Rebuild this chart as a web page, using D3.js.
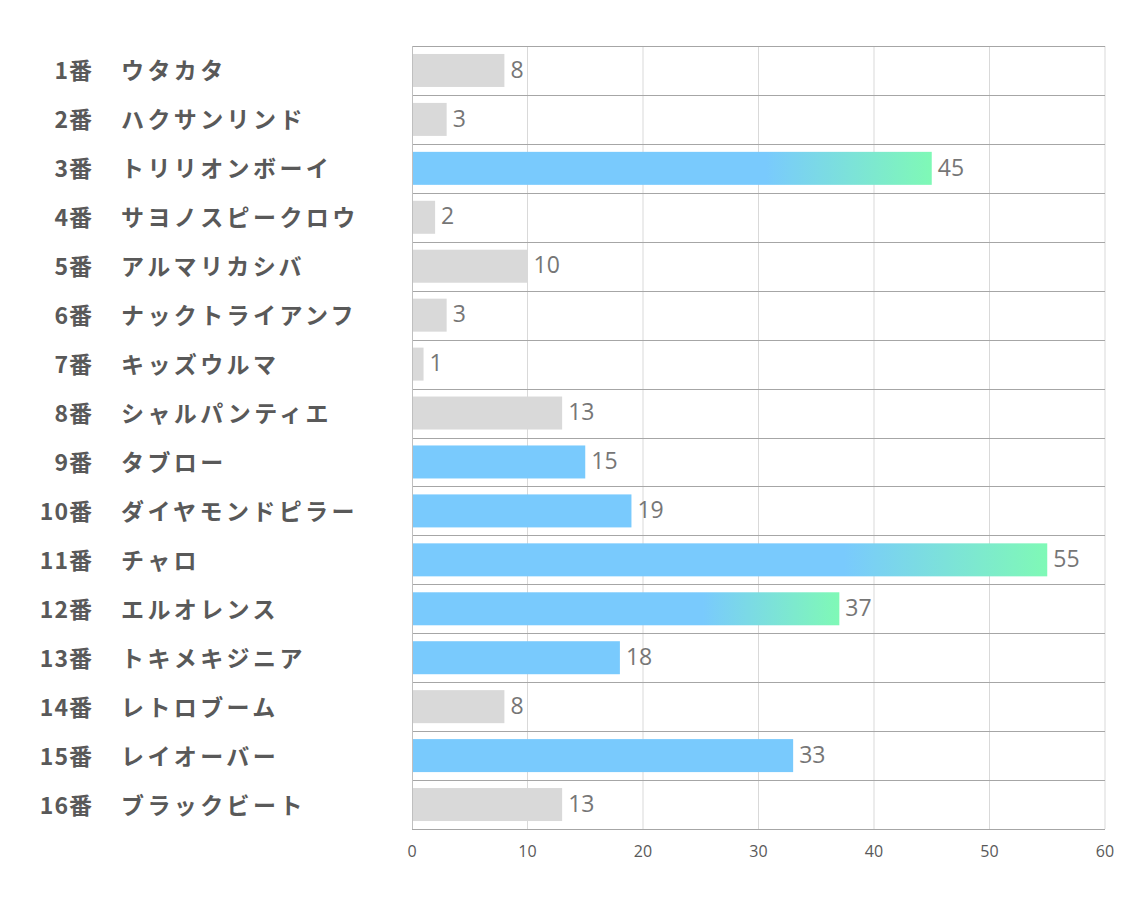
<!DOCTYPE html>
<html><head><meta charset="utf-8">
<script src="https://cdn.jsdelivr.net/npm/d3@7"></script>
<style>body{margin:0;background:#fff}svg{display:block}</style>
</head><body>
<script>
const nums = ["1番","2番","3番","4番","5番","6番","7番","8番","9番","10番","11番","12番","13番","14番","15番","16番"];
const names = ["ウタカタ","ハクサンリンド","トリリオンボーイ","サヨノスピークロウ","アルマリカシバ","ナックトライアンフ","キッズウルマ","シャルパンティエ","タブロー","ダイヤモンドピラー","チャロ","エルオレンス","トキメキジニア","レトロブーム","レイオーバー","ブラックビート"];
const values = [8,3,45,2,10,3,1,13,15,19,55,37,18,8,33,13];
// 0 = gray, 1 = blue, 2 = blue→green gradient
const kinds = [0,0,2,0,0,0,0,0,1,1,2,2,1,0,1,0];
const ticks = [0,10,20,30,40,50,60];

const W=1134,H=907;
const svg=d3.select("body").append("svg").attr("width",W).attr("height",H);
const defs=svg.append("defs");
const g=defs.append("linearGradient").attr("id","grad").attr("x1","0").attr("x2","1").attr("y1","0").attr("y2","0");
g.append("stop").attr("offset","0.68").attr("stop-color","#79cafd");
g.append("stop").attr("offset","1").attr("stop-color","#7ff9b6");

const x=d3.scaleLinear().domain([0,60]).range([412,1105]);
const y=d3.scaleBand().domain(d3.range(16)).range([46,829]).paddingInner(0).paddingOuter(0);
const bw=33;

// vertical grid
svg.append("g").selectAll("line").data(ticks.slice(1)).join("line")
 .attr("x1",d=>x(d)).attr("x2",d=>x(d)).attr("y1",46).attr("y2",829)
 .attr("stroke","#d9d9d9").attr("stroke-width",1);
// horizontal lines
svg.append("g").selectAll("line").data(d3.range(17)).join("line")
 .attr("x1",412).attr("x2",1105)
 .attr("y1",d=>Math.round(46+d*y.step())+0.5).attr("y2",d=>Math.round(46+d*y.step())+0.5)
 .attr("stroke","#a6a6a6").attr("stroke-width",1);

const colors=["#d9d9d9","#79cafd","url(#grad)"];
svg.append("g").selectAll("rect").data(values).join("rect")
 .attr("x",x(0)+1).attr("y",(d,i)=>y(i)+(y.bandwidth()-bw)/2)
 .attr("width",d=>x(d)-x(0)-1).attr("height",bw)
 .attr("fill",(d,i)=>colors[kinds[i]]);

// left axis line
svg.append("line").attr("x1",412.5).attr("x2",412.5).attr("y1",46).attr("y2",829).attr("stroke","#bfbfbf");

// value labels
svg.append("g").selectAll("text").data(values).join("text")
 .attr("x",d=>x(d)+6).attr("y",(d,i)=>y(i)+y.bandwidth()/2+1)
 .attr("dominant-baseline","middle")
 .attr("font-family","'Open Sans', sans-serif").attr("font-size",23).attr("fill","#767676")
 .text(d=>d);

// category labels
const lab=svg.append("g").attr("font-family","'Noto Sans CJK JP', sans-serif").attr("font-weight","bold").attr("font-size",23).attr("fill","#595959");
lab.selectAll("text.n").data(nums).join("text").attr("class","n")
 .attr("x",93).attr("y",(d,i)=>y(i)+y.bandwidth()/2-1).attr("dominant-baseline","central").attr("text-anchor","end")
 .attr("letter-spacing",1).text(d=>d);
lab.selectAll("text.m").data(names).join("text").attr("class","m")
 .attr("x",121).attr("y",(d,i)=>y(i)+y.bandwidth()/2-1).attr("dominant-baseline","central").attr("text-anchor","start")
 .attr("letter-spacing",3.4).text(d=>d);

// x ticks
svg.append("g").selectAll("text").data(ticks).join("text")
 .attr("x",d=>x(d)).attr("y",853).attr("dominant-baseline","middle").attr("text-anchor","middle")
 .attr("font-family","'Liberation Sans Narrow','Open Sans',sans-serif").attr("font-size",16).attr("fill","#595959")
 .text(d=>d);
</script>
</body></html>
